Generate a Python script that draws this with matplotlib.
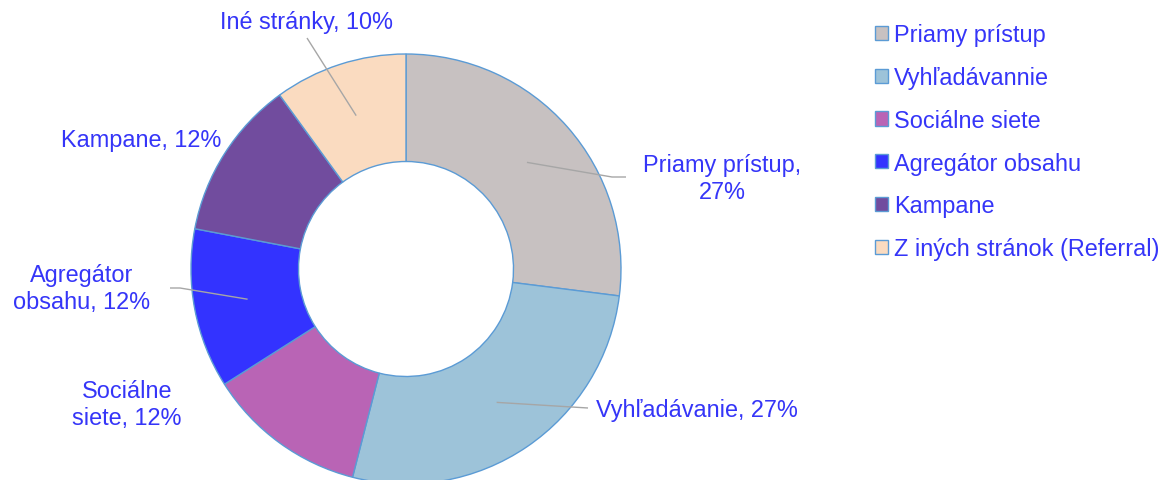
import numpy as np
import matplotlib
matplotlib.use("Agg")
import matplotlib.pyplot as plt
from matplotlib.patches import Rectangle

plt.rcParams['font.family'] = ['Liberation Sans', 'DejaVu Sans']

# data
legend_labels = ["Priamy prístup", "Vyhľadávannie", "Sociálne siete",
                 "Agregátor obsahu", "Kampane", "Z iných stránok (Referral)"]
slice_labels = ["Priamy prístup,\n27%", "Vyhľadávanie, 27%", "Sociálne\nsiete, 12%",
                "Agregátor\nobsahu, 12%", "Kampane, 12%", "Iné stránky, 10%"]
values = [27, 27, 12, 12, 12, 10]
colors = ["#C7C1C1", "#9DC3D9", "#B964B5", "#3333FF", "#714C9E", "#FADBC0"]

TEXT_COL = "#3535F8"
EDGE_COL = "#5B9BD5"
LINE_COL = "#A6A6A6"
FS = 16.9

W, H = 1162, 481
CX, CY, R = 406, 270, 215   # pie centre / radius in pixels (from top-left)

fig = plt.figure(figsize=(W / 100, H / 100), dpi=100)
ax = fig.add_axes([0, 0, 1, 1])

wedges, _ = ax.pie(values, colors=colors, startangle=90, counterclock=False,
                   radius=1.0, wedgeprops=dict(width=0.5, edgecolor=EDGE_COL, linewidth=1.0))

ax.set_aspect('auto')
ax.set_xlim(-CX / R, (W - CX) / R)
ax.set_ylim((CY - H) / R, CY / R)
ax.axis('off')

def px(x, y):
    return (x - CX) / R, (CY - y) / R

# label layout: (text x, text y, ha, leader end point, leader tail)
layout = [
    (722, 179, 'center', (612, 178), (626, 178)),
    (596, 410, 'left', (588, 409), None),
    (127, 405, 'center', None, None),
    (82, 289, 'center', (180, 289), (170, 289)),
    (141, 141, 'center', None, None),
    (307, 23, 'center', (307, 39), None),
]

cum = np.cumsum([0] + values)
total = float(sum(values))
for i, (tx, ty, ha, end, tail) in enumerate(layout):
    mid = 90 - 360 * (cum[i] + cum[i + 1]) / 2 / total
    a = np.deg2rad(mid)
    if end is not None:
        x0, y0 = 0.75 * np.cos(a), 0.75 * np.sin(a)
        ex, ey = px(*end)
        xs, ys = [x0, ex], [y0, ey]
        if tail is not None:
            tx2, ty2 = px(*tail)
            xs.append(tx2); ys.append(ty2)
        ax.plot(xs, ys, color=LINE_COL, lw=1.0, solid_capstyle='butt')
    lx, ly = px(tx, ty)
    ax.text(lx, ly, slice_labels[i], ha=ha, va='center', fontsize=FS,
            color=TEXT_COL, linespacing=1.2, multialignment='center')

# legend
handles = [Rectangle((0, 0), 1, 1, facecolor=c, edgecolor=EDGE_COL, linewidth=1.0) for c in colors]
leg = fig.legend(handles, legend_labels, loc='upper left',
                 bbox_to_anchor=(866 / W, 1 - 15 / H), frameon=False,
                 fontsize=FS, handlelength=0.55, handleheight=0.55,
                 handletextpad=0.25, labelspacing=0.84, borderaxespad=0)
for t in leg.get_texts():
    t.set_color(TEXT_COL)

fig.savefig("out.png", dpi=100)
